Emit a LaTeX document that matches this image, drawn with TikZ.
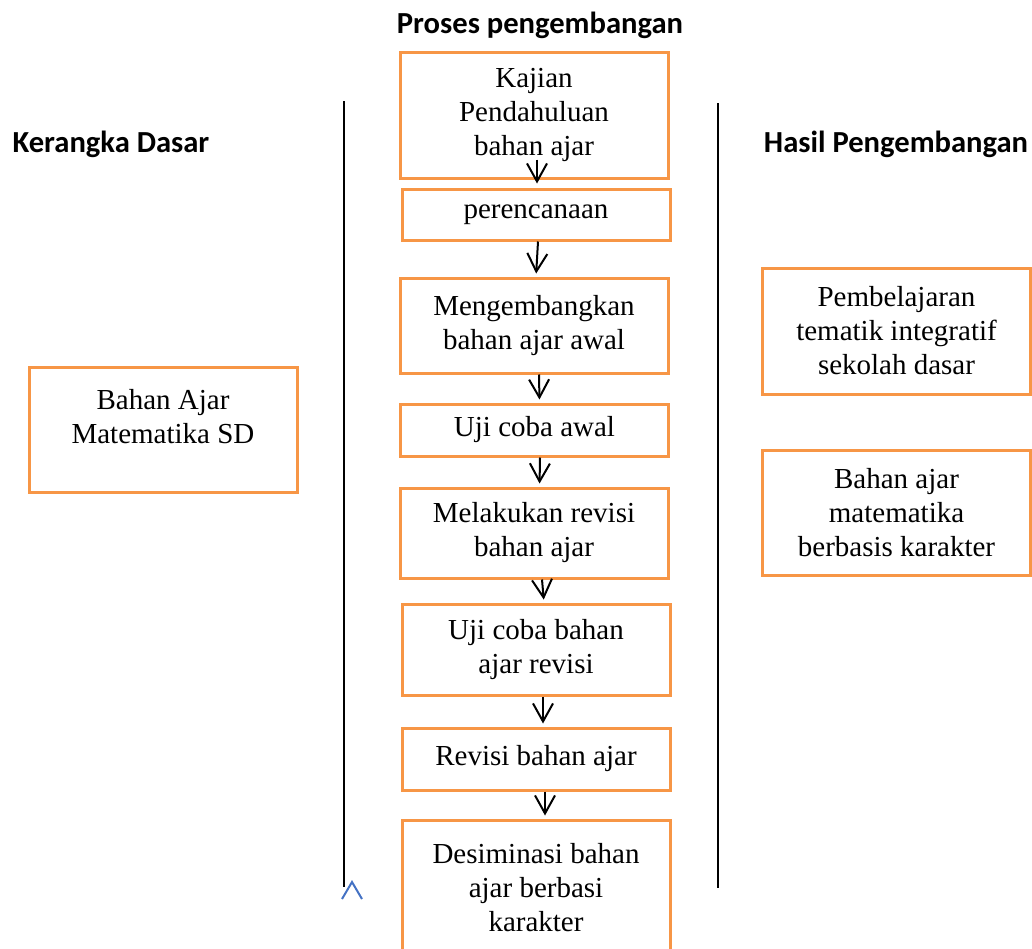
\documentclass[tikz,border=0pt]{standalone}
\usepackage{fontspec}
\setmainfont{Liberation Serif}
\newfontfamily\headfont{Carlito}
\usepackage{tikz}
\usetikzlibrary{arrows.meta}
\definecolor{boxorange}{RGB}{247,150,70}
\definecolor{caretblue}{RGB}{68,114,196}

\begin{document}
\begin{tikzpicture}[x=0.5pt,y=-0.5pt,
	kotak/.style={draw=boxorange, line width=1.5pt, align=center, minimum width=134pt, inner sep=0pt,
		font=\fontsize{14.5pt}{17pt}\selectfont},
	judul/.style={anchor=base, font=\headfont\bfseries\fontsize{15.3pt}{18pt}\selectfont},
	panah/.style={-{Straight Barb[length=9pt,width=10pt]}, line width=1pt}]
	\useasboundingbox (0,0) rectangle (1032,948);

	% garis pemisah kolom
	\draw[line width=1.2pt] (344,101) -- (344,887);
	\draw[line width=1.2pt] (718,103) -- (718,888);

	\node[judul] (kerangka) at (111,152) {Kerangka Dasar};
	\node[judul] (proses) at (540,33) {Proses pengembangan};
	\node[judul] (hasil) at (896,152) {Hasil Pengembangan};

	\node[kotak, minimum height=62.5pt] (bahan) at (163,429.5) {Bahan Ajar\\Matematika SD\\[-4pt]\mbox{}};

	\node[kotak, minimum height=63pt] (kajian) at (534,115) {Kajian\\Pendahuluan\\bahan ajar};
	\node[kotak, minimum height=25.5pt] (renc) at (536,214.5) {perencanaan};
	\node[kotak, minimum height=47.5pt] (kembang) at (534,325.5) {Mengembangkan\\bahan ajar awal};
	\node[kotak, minimum height=26pt] (ujiawal) at (534.5,430) {Uji coba awal};
	\node[kotak, minimum height=45pt] (revisi1) at (534,533) {Melakukan revisi\\bahan ajar};
	\node[kotak, minimum height=45.5pt] (ujirevisi) at (536,649.5) {Uji coba bahan\\ajar revisi};
	\node[kotak, minimum height=31pt] (revisi2) at (536,759) {Revisi bahan ajar};
	\node[kotak, minimum height=68pt] (desiminasi) at (536,888) {Desiminasi bahan\\ajar berbasi\\karakter};

	\node[kotak, minimum height=63pt] (tematik) at (896.5,331) {Pembelajaran\\tematik integratif\\sekolah dasar};
	\node[kotak, minimum height=62.5pt] (karakter) at (896.5,512.5) {Bahan ajar\\matematika\\berbasis karakter};

	% panah alur
	\draw[panah] ([xshift=1.5pt,yshift=10pt]kajian.south) -- ([xshift=.5pt,yshift=2pt]renc.north);
	\foreach \a/\b/\s in {renc/kembang/1, kembang/ujiawal/2.5, ujiawal/revisi1/2.75,
		revisi1/ujirevisi/4, ujirevisi/revisi2/3.5, revisi2/desiminasi/4.5}
		\draw[panah, shorten >=1.5pt] ([xshift=\s pt]\a.south) -- ([xshift=\s pt]\b.north);

	\draw[caretblue, line width=1pt] (342,899) -- (352,882) -- (362,899);
\end{tikzpicture}
\end{document}
